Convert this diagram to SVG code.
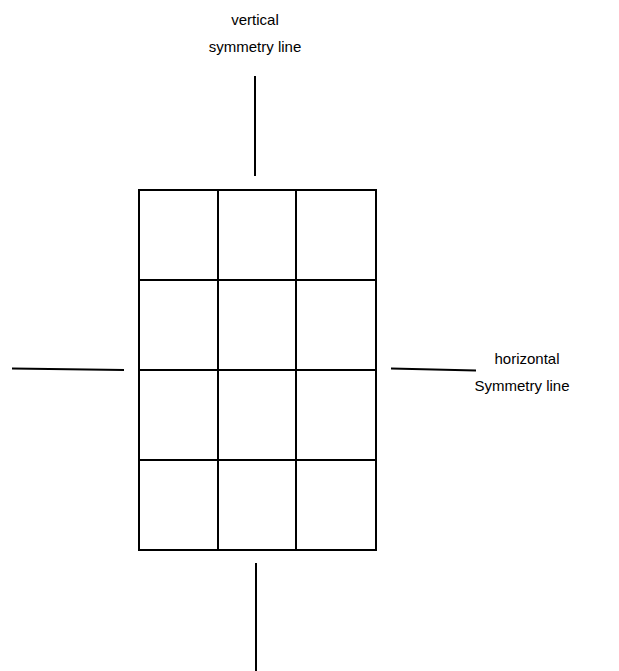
<svg xmlns="http://www.w3.org/2000/svg" width="619" height="671" viewBox="0 0 619 671">
<style>
.ln{stroke:#000;stroke-width:2;fill:none;stroke-linecap:butt}
.t{font-family:"Liberation Sans",Arial,sans-serif;font-size:15px;fill:#000;text-anchor:middle}
</style>
<rect width="619" height="671" fill="#fff"/>
<g id="grid">
<rect class="ln" x="139" y="190" width="237" height="360"/>
<line class="ln" x1="218" y1="190" x2="218" y2="550"/>
<line class="ln" x1="296" y1="190" x2="296" y2="550"/>
<line class="ln" x1="139" y1="280" x2="376" y2="280"/>
<line class="ln" x1="139" y1="370" x2="376" y2="370"/>
<line class="ln" x1="139" y1="460" x2="376" y2="460"/>
</g>
<g id="connectors">
<line class="ln" x1="255" y1="76" x2="255" y2="176"/>
<line class="ln" x1="256" y1="563" x2="256" y2="671"/>
<line class="ln" x1="12" y1="368.5" x2="124" y2="370"/>
<line class="ln" x1="391" y1="368.5" x2="476" y2="370.5"/>
</g>
<g id="label-vertical">
<text class="t" x="255" y="25">vertical</text>
<text class="t" x="255" y="52">symmetry line</text>
</g>
<g id="label-horizontal">
<text class="t" x="527" y="364">horizontal</text>
<text class="t" x="522" y="391">Symmetry line</text>
</g>
</svg>
